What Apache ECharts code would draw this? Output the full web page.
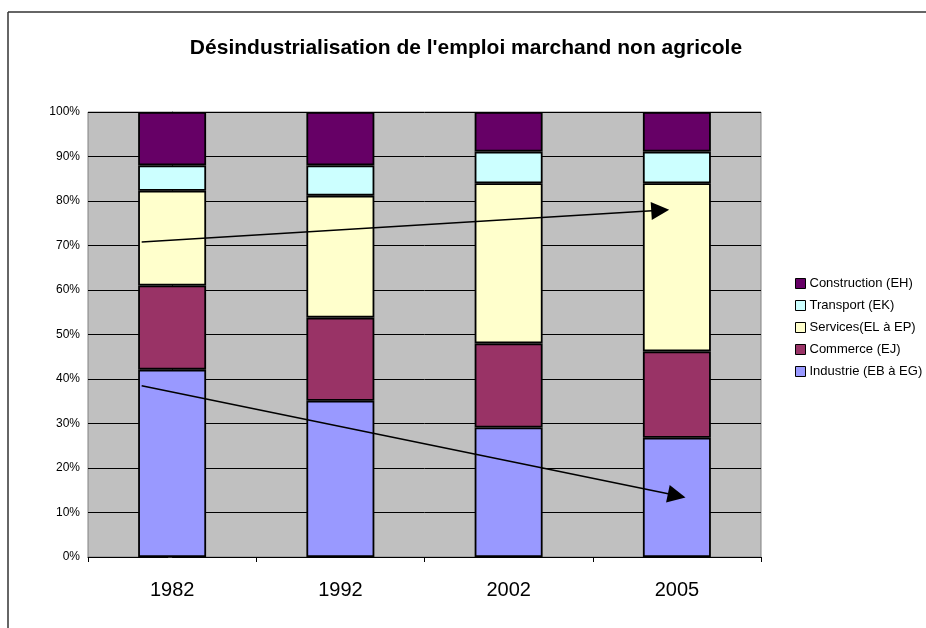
<!DOCTYPE html>
<html>
<head>
<meta charset="utf-8">
<script src="https://cdn.jsdelivr.net/npm/echarts@6/dist/echarts.min.js"></script>
<style>html,body{margin:0;padding:0;background:#fff}#c{width:926px;height:628px}</style>
</head>
<body>
<div id="c"></div>
<script>
const title = "Désindustrialisation de l'emploi marchand non agricole";
const years = ['1982', '1992', '2002', '2005'];
const industrie = [42.1, 35.1, 29.1, 26.8];
const commerce = [18.9, 18.7, 18.9, 19.4];
const services = [21.3, 27.4, 36.0, 37.8];
const transport = [5.7, 6.8, 7.1, 7.1];
const construction = [12.0, 12.0, 8.9, 8.9];
const seriesNames = ['Industrie (EB à EG)', 'Commerce (EJ)', 'Services(EL à EP)', 'Transport (EK)', 'Construction (EH)'];
const legendOrder = ['Construction (EH)', 'Transport (EK)', 'Services(EL à EP)', 'Commerce (EJ)', 'Industrie (EB à EG)'];
const yTicks = [0, 10, 20, 30, 40, 50, 60, 70, 80, 90, 100];
// trend arrows: [x (category position), y (%)] start and arrowhead centre
const arrowServices = [[-0.181, 70.8], [2.901, 77.9]];
const arrowIndustrie = [[-0.181, 38.5], [2.999, 13.8]];

const colors = ['#9999FF', '#993366', '#FFFFCC', '#CCFFFF', '#660066'];
const values = [industrie, commerce, services, transport, construction];

const chart = echarts.init(document.getElementById('c'), null, {renderer: 'canvas'});
const barSeries = values.map((v, i) => ({
  name: seriesNames[i],
  type: 'bar',
  stack: 'total',
  data: v,
  barWidth: '40.4%',
  itemStyle: {color: colors[i], borderColor: '#000', borderWidth: 1.8},
  emphasis: {disabled: true}
}));
chart.setOption({
  animation: false,
  textStyle: {fontFamily: 'Liberation Sans, Arial, sans-serif'},
  title: {
    text: title, left: 461, top: 33, textAlign: 'center',
    textStyle: {fontSize: 21, fontWeight: 'bold', color: '#000', fontFamily: 'Liberation Sans, Arial, sans-serif'}
  },
  graphic: [
    {type: 'line', shape: {x1: 8, y1: 12, x2: 926, y2: 12}, style: {stroke: '#333', lineWidth: 1.5}},
    {type: 'line', shape: {x1: 8, y1: 12, x2: 8, y2: 628}, style: {stroke: '#333', lineWidth: 1.5}}
  ],
  legend: {
    orient: 'vertical', left: 790, top: 272,
    itemWidth: 10, itemHeight: 10, itemGap: 9,
    icon: 'rect',
    data: legendOrder,
    textStyle: {fontSize: 13, lineHeight: 13, color: '#000', padding: [0, 0, 0, -1]},
    itemStyle: {borderColor: '#000', borderWidth: 1}
  },
  grid: {left: 88, right: 165, top: 112, bottom: 71, show: true, backgroundColor: '#C0C0C0', borderColor: '#808080', borderWidth: 1},
  xAxis: [{
    type: 'category', data: years,
    axisLine: {lineStyle: {color: '#000', width: 1}},
    axisTick: {show: true, length: 5, lineStyle: {color: '#000'}},
    axisLabel: {fontSize: 20, color: '#000', margin: 23}
  }, {
    type: 'value', min: -0.5, max: 3.5, show: false
  }],
  yAxis: {
    type: 'value', min: 0, max: 100, interval: 10,
    axisLine: {show: true, lineStyle: {color: '#333'}},
    axisTick: {show: true, length: 4, lineStyle: {color: '#333'}},
    axisLabel: {fontSize: 12, color: '#000', margin: 8, formatter: v => yTicks.includes(v) ? v + '%' : ''},
    splitLine: {show: true, lineStyle: {color: '#000', width: 1}}
  },
  series: barSeries.concat([{
    type: 'lines',
    coordinateSystem: 'cartesian2d',
    xAxisIndex: 1, yAxisIndex: 0,
    symbol: ['none', 'triangle'],
    symbolSize: [13, 18],
    lineStyle: {color: '#000', width: 1.5, opacity: 1},
    data: [{coords: arrowServices}, {coords: arrowIndustrie}],
    z: 10
  }])
});
</script>
</body>
</html>
